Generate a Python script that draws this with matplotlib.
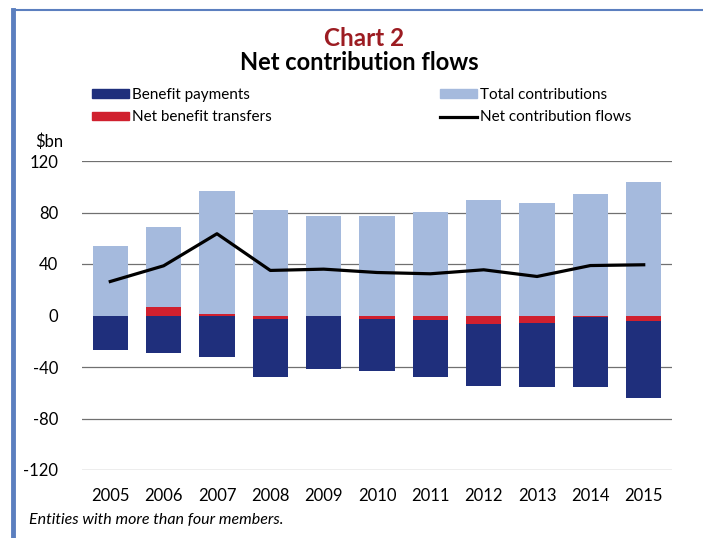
import numpy as np
import matplotlib
matplotlib.use("Agg")
import matplotlib.pyplot as plt
from matplotlib.patches import Patch
from matplotlib.lines import Line2D

plt.rcParams['font.family'] = ['Lato', 'DejaVu Sans']
plt.rcParams['axes.unicode_minus'] = False

years = ['2005', '2006', '2007', '2008', '2009', '2010', '2011', '2012', '2013', '2014', '2015']
benefit_payments = [-27, -29.5, -32.6, -44.7, -40.7, -40, -44, -48.2, -50.2, -54.2, -60]
net_benefit_transfers = [0, 6.5, 1.5, -3, -0.5, -3, -3.5, -6.5, -5.5, -1, -4]
total_contributions = [53.6, 62, 95.5, 82, 77, 77.6, 80.7, 90, 87, 94, 103.5]
net_contribution_flows = [26.4, 38.6, 63.5, 35, 36, 33.4, 32.4, 35.5, 30.3, 38.8, 39.4]

navy = '#1f2f7c'
red = '#d0202e'
light = '#a5badd'

fig = plt.figure(figsize=(7.03, 5.38), dpi=100)
ax = fig.add_axes([82/703, 1-470/538, 590/703, (470-161)/538])

x = np.arange(len(years))
w = 0.665
nbt = np.array(net_benefit_transfers)
pos_red = np.where(nbt > 0, nbt, 0)
neg_red = np.where(nbt < 0, nbt, 0)

# negative parts: transfers sit right under zero, payments below them
ax.bar(x, neg_red, w, color=red, zorder=2)
ax.bar(x, benefit_payments, w, bottom=neg_red, color=navy, zorder=2)
ax.bar(x, pos_red, w, color=red, zorder=2)
ax.bar(x, total_contributions, w, bottom=pos_red, color=light, zorder=2)
ax.plot(x, net_contribution_flows, color='black', lw=2.3, zorder=3)

ax.set_xlim(-0.53, 10.53)
ax.set_ylim(-120, 120)
ax.set_yticks([-120, -80, -40, 0, 40, 80, 120])
ax.set_xticks(x)
ax.set_xticklabels(years)
for v in [-120, -80, -40, 40, 80, 120]:
    ax.axhline(v, color='#707070', lw=0.9, zorder=1)
for s in ax.spines.values():
    s.set_visible(False)
ax.tick_params(axis='both', length=0, labelsize=12)
ax.tick_params(axis='y', pad=17)
ax.tick_params(axis='x', pad=13)

fig.text(35/703, 1-142/538, '$bn', fontsize=12, va='center', ha='left')

fig.text(364/703, 1-38/538, 'Chart 2', fontsize=17.5, fontweight='bold', color='#9c1c22', ha='center', va='center')
fig.text(359/703, 1-62/538, 'Net contribution flows', fontsize=17, fontweight='bold', ha='center', va='center')

h1 = [Patch(color=navy, label='Benefit payments'), Patch(color=red, label='Net benefit transfers')]
h2 = [Patch(color=light, label='Total contributions'),
      Line2D([0], [0], color='black', lw=2.3, label='Net contribution flows')]
opts = dict(loc='upper left', frameon=False, fontsize=11, handlelength=2.4, handleheight=0.5,
            handletextpad=0.2, labelspacing=0.55, borderaxespad=0, borderpad=0)
fig.legend(handles=h1, bbox_to_anchor=(92/703, 1-88/538), **opts)
fig.legend(handles=h2, bbox_to_anchor=(440/703, 1-88/538), **opts)

fig.text(29/703, 1-520/538, 'Entities with more than four members.', fontsize=11.5, style='italic', va='center')

fig.add_artist(Line2D([13/703, 13/703], [0, 1-10/538], color='#5b7fbf', lw=3.5))
fig.add_artist(Line2D([13/703, 1], [1-10/538, 1-10/538], color='#5b7fbf', lw=1.5))

fig.savefig('out.png', dpi=100)
